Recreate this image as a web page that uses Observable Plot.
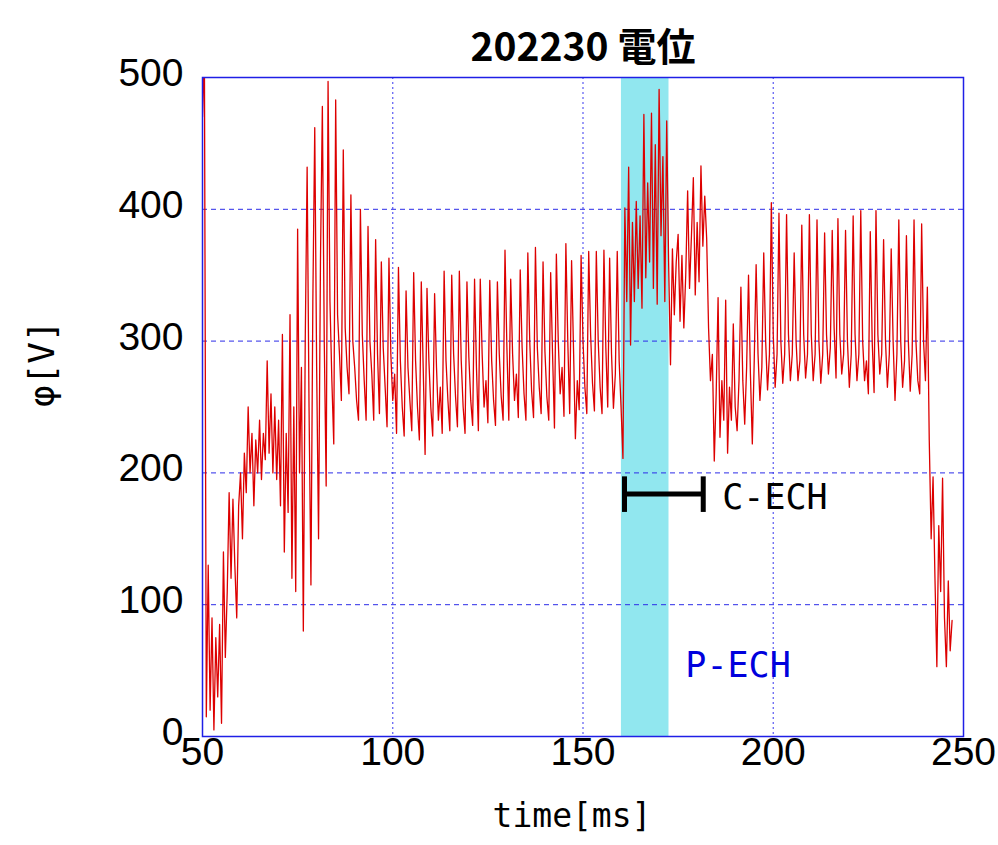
<!DOCTYPE html>
<html>
<head>
<meta charset="utf-8">
<script src="https://cdn.jsdelivr.net/npm/d3@7"></script>
<script src="https://cdn.jsdelivr.net/npm/@observablehq/plot@0.6"></script>
<style>
  html, body { margin: 0; padding: 0; background: #fff; }
  #chart svg { display: block; }
</style>
</head>
<body>
<div id="chart"></div>
<script>
// ---- data ----
const titleText = "202230 電位";
const xLabel = "time[ms]";
const yLabel = "φ[V]";
const xTicks = [50, 100, 150, 200, 250];
const yTicks = [0, 100, 200, 300, 400, 500];
const xGrid = [100, 150, 200];
const yGrid = [100, 200, 300, 400];
const pech = [160.1, 172.6];      // P-ECH pulse (ms)
const cech = [160.9, 181.6];      // C-ECH interval (ms)
const cechLevel = 184;            // V, level of the C-ECH bar
const cechCap = [170, 197];       // V, end caps
const tStart = 50, tStep = 0.5;   // sampling of the trace (ms)
const phi = [
  470, 520, 15, 130, 20, 90, 5, 75, 30, 85,
  10, 140, 60, 110, 185, 120, 180, 130, 90, 175,
  200, 150, 215, 185, 250, 200, 230, 175, 225, 200,
  240, 195, 230, 210, 285, 215, 260, 200, 250, 195,
  240, 175, 305, 140, 230, 170, 320, 120, 250, 110,
  385, 200, 280, 80, 300, 432, 250, 115, 330, 462,
  280, 150, 360, 478, 300, 190, 497, 330, 270, 222,
  483, 320, 290, 255, 445, 310, 280, 260, 411, 300,
  280, 255, 240, 400, 305, 270, 240, 387, 300, 275,
  240, 377, 290, 245, 360, 295, 265, 235, 363, 290,
  255, 275, 230, 356, 285, 250, 228, 338, 280, 255,
  232, 352, 285, 250, 225, 345, 280, 214, 340, 285,
  250, 228, 336, 280, 240, 265, 230, 353, 285, 255,
  232, 350, 290, 258, 235, 353, 285, 250, 230, 345,
  288, 255, 236, 347, 280, 232, 347, 290, 250, 270,
  238, 346, 285, 255, 236, 345, 290, 258, 240, 369,
  295, 240, 347, 290, 255, 275, 242, 354, 295, 260,
  240, 367, 300, 262, 242, 371, 295, 265, 245, 360,
  292, 258, 240, 352, 290, 234, 366, 300, 260, 280,
  243, 374, 300, 245, 361, 295, 226, 270, 248, 365,
  300, 265, 245, 368, 305, 268, 247, 368, 300, 265,
  245, 369, 295, 250, 363, 290, 249, 275, 368, 285,
  250, 211, 401, 330, 432, 297, 390, 330, 406, 340,
  395, 325, 472, 348, 420, 360, 473, 340, 449, 328,
  491, 380, 440, 330, 467, 360, 282, 370, 320, 360,
  381, 315, 365, 310, 350, 414, 340, 380, 424, 335,
  390, 345, 433, 372, 410, 378, 310, 270, 290, 209,
  260, 333, 227, 270, 240, 331, 215, 265, 240, 313,
  250, 232, 270, 341, 270, 237, 280, 350, 275, 222,
  285, 358, 290, 255, 280, 367, 300, 263, 290, 405,
  305, 265, 290, 397, 300, 268, 290, 396, 305, 270,
  290, 367, 300, 270, 285, 388, 305, 272, 290, 396,
  305, 270, 290, 392, 300, 268, 290, 382, 305, 275,
  295, 384, 310, 272, 393, 305, 275, 290, 384, 300,
  265, 290, 395, 305, 270, 290, 399, 300, 270, 285,
  260, 383, 300, 261, 399, 305, 275, 290, 377, 300,
  265, 290, 370, 300, 255, 290, 392, 300, 265, 285,
  380, 300, 262, 290, 392, 300, 270, 260, 389, 300,
  270, 341, 225, 150, 197, 120, 53, 160, 110, 196,
  90, 53, 118, 65, 88
];

// ---- build ----
const trace = phi.map((v, i) => ({t: tStart + i * tStep, v}));
const numFont = "Liberation Sans, Arial, sans-serif";
const monoFont = "DejaVu Sans Mono, Liberation Mono, monospace";

const chart = Plot.plot({
  width: 998,
  height: 845,
  marginLeft: 202,
  marginRight: 35,
  marginTop: 77,
  marginBottom: 109,
  x: {domain: [50, 250], axis: null},
  y: {domain: [0, 500], axis: null},
  marks: [
    Plot.rect([pech], {x1: d => d[0], x2: d => d[1], fill: "#91e7ef"}),
    Plot.ruleX(xGrid, {stroke: "#5a5af2", strokeWidth: 1.2, strokeDasharray: "2,3"}),
    Plot.ruleY(yGrid, {stroke: "#2c2ce8", strokeWidth: 1, strokeDasharray: "5,4"}),
    Plot.line(trace, {x: "t", y: "v", stroke: "#dd0000", strokeWidth: 1.3, clip: true}),
    Plot.frame({stroke: "#1f1fe6", strokeWidth: 1.5}),
    // C-ECH bar
    Plot.ruleY([cechLevel], {x1: cech[0], x2: cech[1], stroke: "#000", strokeWidth: 5}),
    Plot.ruleX(cech, {y1: cechCap[0], y2: cechCap[1], stroke: "#000", strokeWidth: 5}),
    Plot.text(["C-ECH"], {x: 186.6, y: 181, text: d => d, textAnchor: "start",
      fontFamily: monoFont, fontSize: 35, fill: "#000"}),
    Plot.text(["P-ECH"], {x: 176.9, y: 54, text: d => d, textAnchor: "start",
      fontFamily: monoFont, fontSize: 35, fill: "#0000dd"}),
    // tick labels
    Plot.text(xTicks, {x: d => d, text: d => String(d), frameAnchor: "bottom", dy: 28,
      fontFamily: numFont, fontSize: 39, fill: "#000"}),
    Plot.text(yTicks, {y: d => d, text: d => String(d), frameAnchor: "left", dx: -19, dy: -4,
      textAnchor: "end", fontFamily: numFont, fontSize: 39, fill: "#000"}),
    // title & axis labels
    Plot.text([titleText], {text: d => d, frameAnchor: "top", dy: -44,
      fontFamily: "Noto Sans CJK JP, sans-serif", fontSize: 39, fontWeight: "bold", fill: "#000"}),
    Plot.text([xLabel], {text: d => d, frameAnchor: "bottom", dx: -11, dy: 90,
      fontFamily: monoFont, fontSize: 33, fill: "#000"}),
    Plot.text([yLabel], {text: d => d, frameAnchor: "left", dx: -160, rotate: -90,
      fontFamily: monoFont, fontSize: 36, fill: "#000"})
  ]
});
document.getElementById("chart").appendChild(chart);
</script>
</body>
</html>
